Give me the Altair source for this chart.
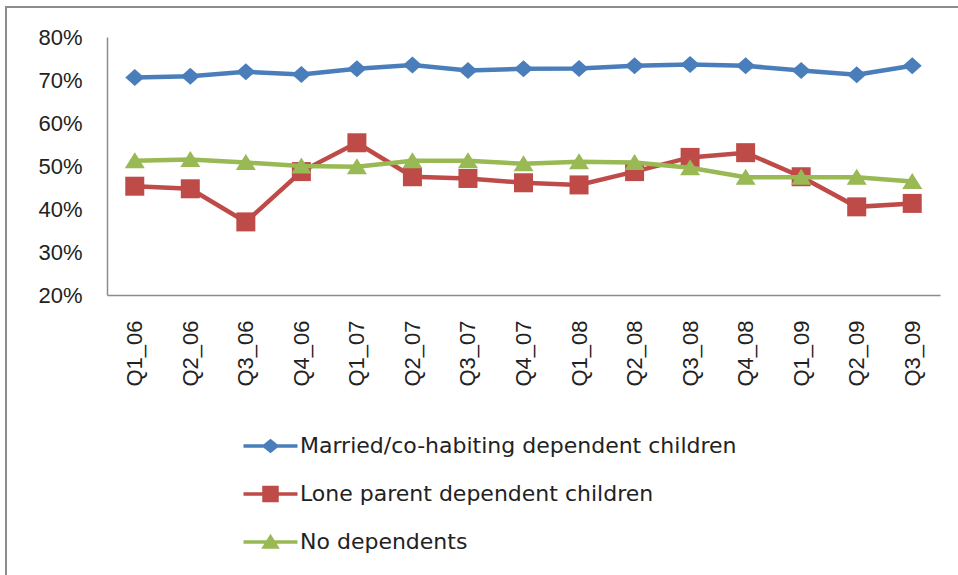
import altair as alt
import pandas as pd

# Quarterly categories along the x axis
quarters = ["Q1_06", "Q2_06", "Q3_06", "Q4_06", "Q1_07", "Q2_07", "Q3_07", "Q4_07",
            "Q1_08", "Q2_08", "Q3_08", "Q4_08", "Q1_09", "Q2_09", "Q3_09"]

# Percentages per household type
married = [70.6, 70.9, 71.9, 71.3, 72.6, 73.5, 72.2, 72.6, 72.7, 73.3, 73.6, 73.3, 72.2, 71.2, 73.3]
lone = [45.3, 44.7, 37.0, 48.7, 55.4, 47.5, 47.1, 46.1, 45.6, 48.7, 52.0, 53.1, 47.5, 40.5, 41.3]
no_dep = [51.2, 51.5, 50.8, 50.0, 49.8, 51.2, 51.2, 50.5, 51.0, 50.8, 49.6, 47.4, 47.4, 47.4, 46.4]

series_names = ["Married/co-habiting dependent children",
                "Lone parent dependent children",
                "No dependents"]
series_values = [married, lone, no_dep]
series_colors = ["#4A7EBB", "#BE4B48", "#98B954"]

# Marker outlines (unit-square paths scaled by the mark size)
marker_paths = [
    "M0,-0.85L0.95,0L0,0.85L-0.95,0Z",
    "M-0.95,-0.95L0.95,-0.95L0.95,0.95L-0.95,0.95Z",
    "M0,-0.85L1,0.75L-1,0.75Z",
]
# Legend symbols: a short line segment with the marker in its middle
legend_paths = [
    "M-1.8,-0.12L1.8,-0.12L1.8,0.12L-1.8,0.12Z M0,-0.48L0.6,0L0,0.48L-0.6,0Z",
    "M-1.8,-0.12L1.8,-0.12L1.8,0.12L-1.8,0.12Z M-0.55,-0.55L0.55,-0.55L0.55,0.55L-0.55,0.55Z",
    "M-1.8,-0.12L1.8,-0.12L1.8,0.12L-1.8,0.12Z M0,-0.55L0.62,0.45L-0.62,0.45Z",
]

rows = []
for name, vals in zip(series_names, series_values):
    for q, v in zip(quarters, vals):
        rows.append({"quarter": q, "series": name, "value": v})
df = pd.DataFrame(rows)

X = alt.X("quarter:O", sort=quarters,
          scale=alt.Scale(padding=0.5),
          axis=alt.Axis(title=None, labelAngle=-90, labelFontSize=22,
                        labelFont="Liberation Sans", labelColor="#222222",
                        ticks=False, tickSize=0, labelPadding=25,
                        domainColor="#8c8c8c", domainWidth=1.5))
Y = alt.Y("value:Q",
          scale=alt.Scale(domain=[20, 80], nice=False, zero=False),
          axis=alt.Axis(title=None, values=[20, 30, 40, 50, 60, 70, 80],
                        labelExpr="datum.value + '%'", labelFontSize=22,
                        labelFont="Liberation Sans", labelColor="#222222",
                        ticks=False, tickSize=0, labelPadding=25, grid=False,
                        domainColor="#8c8c8c", domainWidth=1.5))

layers = []

# Outer chart frame
frame = alt.Chart(pd.DataFrame({"k": [0]})).mark_rect(
    fillOpacity=0, stroke="#8c8c8c", strokeWidth=2
).encode(x=alt.value(-101), x2=alt.value(900), y=alt.value(-30), y2=alt.value(600))
layers.append(frame)

for name, color, path in zip(series_names, series_colors, marker_paths):
    base = alt.Chart(df).transform_filter(alt.datum.series == name)
    layers.append(base.mark_line(strokeWidth=4.5, color=color).encode(x=X, y=Y))
    layers.append(base.mark_point(shape=path, size=400, filled=True, opacity=1,
                                  color=color, strokeWidth=0).encode(x=X, y=Y))

legend_spec = alt.Legend(
    title=None, orient="none", legendX=148.5, legendY=394, direction="vertical",
    symbolSize=900, symbolOpacity=1, symbolStrokeWidth=0, labelOffset=14.5,
    labelFontSize=22, labelFont="DejaVu Sans", labelColor="#222222",
    rowPadding=22, padding=0, labelLimit=600,
)
legend_layer = alt.Chart(df).mark_point(opacity=0, filled=True).encode(
    x=X, y=Y,
    color=alt.Color("series:N", scale=alt.Scale(domain=series_names, range=series_colors),
                    legend=legend_spec),
    shape=alt.Shape("series:N", scale=alt.Scale(domain=series_names, range=legend_paths),
                    legend=legend_spec),
)
layers.append(legend_layer)

chart = alt.layer(*layers).properties(
    width=833, height=258,
    autosize=alt.AutoSizeParams(type="none"),
    padding={"left": 107, "top": 37, "right": 18, "bottom": 280},
    background="white",
).configure_view(stroke=None)

chart.save("out.html", embed_options={"renderer": "svg", "actions": False})
